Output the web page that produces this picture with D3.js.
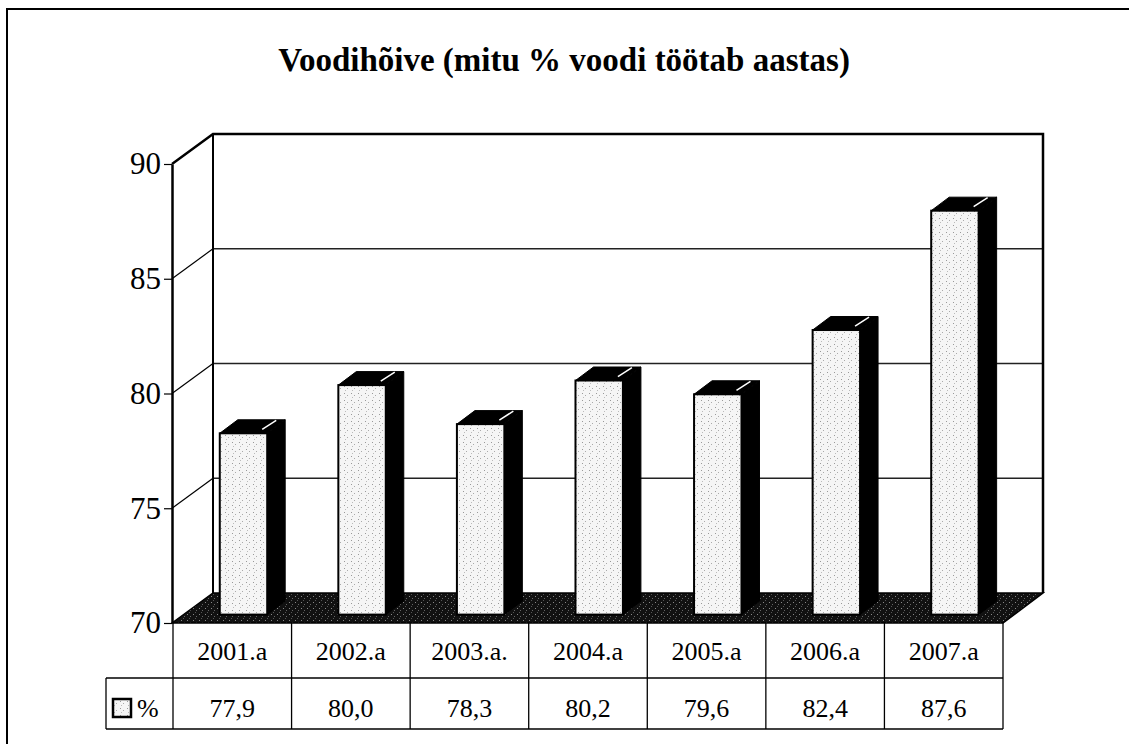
<!DOCTYPE html>
<html>
<head>
<meta charset="utf-8">
<script src="https://cdn.jsdelivr.net/npm/d3@7"></script>
<style>
  body { margin: 0; background: #fff; }
  text { font-family: "Liberation Serif", "Times New Roman", serif; fill: #000; }
</style>
</head>
<body>
<script>
const categories = ["2001.a", "2002.a", "2003.a.", "2004.a", "2005.a", "2006.a", "2007.a"]
const values = [77.9, 80.0, 78.3, 80.2, 79.6, 82.4, 87.6]
const yTicks = [70, 75, 80, 85, 90]
const seriesName = "%"
const title = "Voodihõive (mitu % voodi töötab aastas)"

const width = 1129
const height = 744

// depth of the 3d box and the bars inside it
const DX = 40, DY = -30
const zFront = 0.28, zBack = 0.73

const svg = d3.select("body").append("svg")
    .attr("width", width)
    .attr("height", height)

const defs = svg.append("defs")
const stip = defs.append("pattern")
    .attr("id", "stip").attr("patternUnits", "userSpaceOnUse")
    .attr("width", 7).attr("height", 7)
stip.append("rect").attr("width", 7).attr("height", 7).attr("fill", "#f5f5f5")
stip.append("rect").attr("x", 1).attr("y", 1).attr("width", 1).attr("height", 1).attr("fill", "#999")
stip.append("rect").attr("x", 4).attr("y", 3).attr("width", 1).attr("height", 1).attr("fill", "#aaa")
stip.append("rect").attr("x", 2).attr("y", 5).attr("width", 1).attr("height", 1).attr("fill", "#bbb")

const floorPat = defs.append("pattern")
    .attr("id", "floorPat").attr("patternUnits", "userSpaceOnUse")
    .attr("width", 6).attr("height", 6)
floorPat.append("rect").attr("width", 6).attr("height", 6).attr("fill", "#111")
floorPat.append("rect").attr("x", 1).attr("y", 2).attr("width", 1).attr("height", 1).attr("fill", "#888")
floorPat.append("rect").attr("x", 4).attr("y", 4).attr("width", 1).attr("height", 1).attr("fill", "#666")
floorPat.append("rect").attr("x", 3).attr("y", 0).attr("width", 1).attr("height", 1).attr("fill", "#555")

// outer frame
svg.append("path")
    .attr("d", `M7,${height} V9 H${width}`)
    .attr("fill", "none").attr("stroke", "#000").attr("stroke-width", 2)

svg.append("text")
    .attr("x", 564).attr("y", 71)
    .attr("text-anchor", "middle")
    .attr("font-size", 33).attr("font-weight", "bold")
    .text(title)

const x = d3.scaleBand().domain(categories).range([173, 1003])
const y = d3.scaleLinear().domain([70, 90]).range([623, 164])

const x0 = 173, x1 = 1003
const yBot = y(70), yTop = y(90)

// back wall
const g = svg.append("g")
g.append("rect")
    .attr("x", x0 + DX).attr("y", yTop + DY)
    .attr("width", x1 - x0).attr("height", yBot - yTop)
    .attr("fill", "#fff")

// gridlines on back wall and left wall
yTicks.filter(t => t > 70 && t < 90).forEach(t => {
    g.append("line")
        .attr("x1", x0 + DX).attr("x2", x1 + DX)
        .attr("y1", y(t) + DY).attr("y2", y(t) + DY)
        .attr("stroke", "#222").attr("stroke-width", 1.3)
    g.append("line")
        .attr("x1", x0 - 1).attr("x2", x0 + DX)
        .attr("y1", y(t)).attr("y2", y(t) + DY)
        .attr("stroke", "#000").attr("stroke-width", 1.2)
})

// floor
g.append("path")
    .attr("d", `M${x0 - 1},${yBot} L${x0 + DX},${yBot + DY} L${x1 + DX},${yBot + DY} L${x1},${yBot} Z`)
    .attr("fill", "url(#floorPat)").attr("stroke", "#000").attr("stroke-width", 1.5)

// wall edges
g.append("path")
    .attr("d", `M${x0 - 1},${yTop} L${x0 + DX},${yTop + DY} H${x1 + DX} V${yBot + DY}`)
    .attr("fill", "none").attr("stroke", "#000").attr("stroke-width", 2.5)
g.append("line")
    .attr("x1", x0 + DX).attr("x2", x0 + DX)
    .attr("y1", yTop + DY).attr("y2", yBot + DY)
    .attr("stroke", "#000").attr("stroke-width", 2)

// bars
const bw = x.bandwidth() * 0.4
const bars = g.selectAll(".bar").data(values).enter().append("g").attr("class", "bar")
const fx = (d, i) => x(categories[i]) + x.bandwidth() / 2 - bw / 2 + DX * zFront
const dz = zBack - zFront
bars.each(function (d, i) {
    const sel = d3.select(this)
    const l = fx(d, i), r = l + bw
    const top = y(d) + DY * zFront
    const bot = y(70) + DY * zFront
    const ox = DX * dz, oy = DY * dz
    // side
    sel.append("path")
        .attr("d", `M${r},${bot} V${top} L${r + ox},${top + oy} V${bot + oy} Z`)
        .attr("fill", "#000").attr("stroke", "#000")
    // top
    sel.append("path")
        .attr("d", `M${l},${top} L${l + ox},${top + oy} H${r + ox} L${r},${top} Z`)
        .attr("fill", "#000").attr("stroke", "#000")
    sel.append("line")
        .attr("x1", r - 5).attr("y1", top - 4)
        .attr("x2", r + 9).attr("y2", top - 13)
        .attr("stroke", "#fff").attr("stroke-width", 1.5)
    // front
    sel.append("rect")
        .attr("x", l).attr("y", top)
        .attr("width", bw).attr("height", bot - top)
        .attr("fill", "url(#stip)").attr("stroke", "#000").attr("stroke-width", 2)
})

// front value axis
const axis = d3.axisLeft(y).tickValues(yTicks).tickSize(8).tickSizeOuter(0).tickPadding(3)
const ax = svg.append("g").attr("transform", `translate(${x0 - 1},0)`).call(axis)
ax.select(".domain").attr("stroke", "#000").attr("stroke-width", 2.5)
ax.selectAll(".tick line").attr("stroke", "#000").attr("stroke-width", 1.2)
ax.selectAll(".tick text")
    .attr("font-family", "Liberation Serif, serif")
    .attr("font-size", 31).attr("fill", "#000")

// data table
const rowTop = yBot, rowMid = 678, rowBot = 729
const legendX = 106
const t = svg.append("g").attr("stroke", "#000").attr("stroke-width", 1.3)
t.append("line").attr("x1", legendX).attr("x2", x1).attr("y1", rowMid).attr("y2", rowMid)
t.append("line").attr("x1", legendX).attr("x2", x1).attr("y1", rowBot).attr("y2", rowBot)
t.append("line").attr("x1", legendX).attr("x2", legendX).attr("y1", rowMid).attr("y2", rowBot)
categories.forEach(c => {
    t.append("line").attr("x1", x(c)).attr("x2", x(c)).attr("y1", rowTop).attr("y2", rowBot)
})
t.append("line").attr("x1", x1).attr("x2", x1).attr("y1", rowTop).attr("y2", rowBot)

const fmt = v => d3.format(".1f")(v).replace(".", ",")
svg.selectAll(".cat").data(categories).enter().append("text")
    .attr("x", d => x(d) + x.bandwidth() / 2).attr("y", 660)
    .attr("text-anchor", "middle").attr("font-size", 26)
    .text(d => d)
svg.selectAll(".val").data(values).enter().append("text")
    .attr("x", (d, i) => x(categories[i]) + x.bandwidth() / 2).attr("y", 717)
    .attr("text-anchor", "middle").attr("font-size", 26)
    .text(d => fmt(d))

svg.append("rect")
    .attr("x", 113).attr("y", 699).attr("width", 18).attr("height", 18)
    .attr("fill", "url(#stip)").attr("stroke", "#000").attr("stroke-width", 2.5)
svg.append("text")
    .attr("x", 137).attr("y", 717).attr("font-size", 26)
    .text(seriesName)
</script>
</body>
</html>
